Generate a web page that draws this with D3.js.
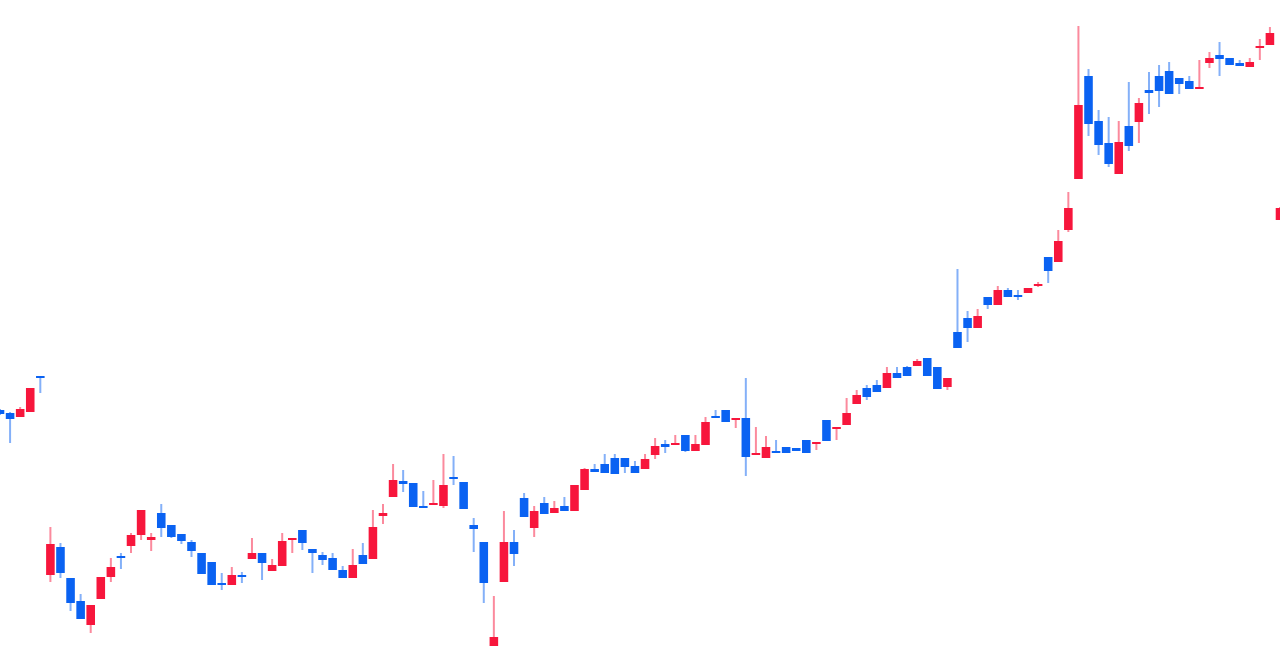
<!DOCTYPE html>
<html>
<head>
<meta charset="utf-8">
<script src="https://cdn.jsdelivr.net/npm/d3@7"></script>
<style>
html,body{margin:0;padding:0;background:#fff;overflow:hidden;}
svg{display:block;}
</style>
</head>
<body>
<svg id="chart" width="1280" height="670"></svg>
<script>
const opens = [26.0,25.7,25.3,25.8,29.4,9.5,12.3,9.2,6.9,4.5,7.1,9.3,11.4,12.4,13.5,13.0,15.7,14.5,13.6,12.8,
11.7,10.8,8.7,8.5,9.5,11.1,11.7,9.9,10.4,13.0,14.0,12.1,11.5,11.2,10.0,9.2,11.5,11.1,15.4,17.3,
18.9,18.7,16.4,16.6,16.4,19.3,18.8,14.5,12.8,2.4,8.8,12.8,17.2,14.2,16.7,15.7,16.4,15.9,18.0,20.1,
20.6,21.2,21.2,20.4,20.1,21.5,22.6,22.5,23.5,21.9,22.5,25.4,26.0,25.0,25.2,21.5,21.2,21.9,22.3,22.2,
23.0,22.7,25.0,24.2,24.5,26.6,28.2,28.5,28.2,29.7,30.3,30.4,31.2,30.3,28.3,33.8,35.2,34.2,37.3,36.5,
38.0,37.5,37.7,38.5,41.3,40.8,44.0,49.1,59.4,54.9,52.7,49.6,54.4,54.8,58.0,59.4,59.9,59.2,58.9,58.1,
60.7,61.5,61.2,60.7,60.3,62.3,62.5,45.0];
const closes = [25.6,25.1,26.1,28.2,29.2,12.6,9.7,6.7,5.1,6.5,9.3,10.3,11.2,13.5,16.0,13.3,14.2,13.3,12.9,11.9,
9.6,8.5,8.5,9.5,9.3,11.7,10.7,10.5,12.9,13.2,12.7,11.7,11.0,10.0,9.2,10.5,10.6,14.3,15.7,19.0,
18.6,16.3,16.2,16.7,18.5,19.1,16.1,14.1,8.7,3.3,12.8,11.6,15.3,15.9,15.6,16.2,15.9,18.5,20.1,19.8,
19.7,19.6,20.3,19.7,21.1,22.4,22.3,22.7,21.9,22.6,24.8,25.2,24.8,25.2,21.3,21.7,22.3,21.7,21.7,21.9,
21.7,22.8,22.9,24.3,25.7,27.5,27.3,27.8,29.7,29.2,29.4,30.9,29.4,28.1,29.2,32.2,34.2,35.4,36.5,38.0,
37.3,37.3,38.2,38.6,39.9,42.9,46.2,56.5,54.6,52.5,50.6,52.8,52.4,56.7,57.7,57.9,57.6,58.6,58.1,58.3,
61.2,61.1,60.5,60.4,60.8,62.4,63.7,46.2];
const highs = [26.1,25.8,26.3,28.2,29.4,14.3,12.7,9.2,7.6,6.5,9.3,11.2,11.7,13.7,16.0,13.7,16.6,14.5,13.6,13.0,
11.7,10.8,9.7,10.3,9.8,13.2,11.7,11.1,13.7,13.2,14.0,12.1,11.8,11.7,10.4,12.1,12.7,16.0,16.6,20.6,
20.0,18.7,17.9,19.0,21.6,21.4,18.8,15.2,12.8,7.4,15.9,14.0,17.7,16.4,17.3,16.9,17.3,18.5,20.2,20.6,
21.6,21.6,21.2,20.9,21.6,23.2,23.0,23.5,23.5,23.5,25.3,26.0,26.0,25.2,29.2,24.3,23.4,23.0,22.3,22.2,
23.0,22.8,25.0,24.3,27.2,28.0,28.5,29.0,30.3,30.3,30.4,31.1,31.2,30.3,29.2,40.1,35.9,36.1,37.3,38.4,
38.2,38.0,38.2,38.8,41.3,44.0,47.8,64.4,60.1,56.0,55.3,54.9,58.8,57.2,59.8,60.5,60.8,59.2,59.4,61.0,
61.8,62.8,61.2,61.0,61.2,63.1,64.3,46.3];
const lows = [25.5,22.7,25.3,25.8,27.7,8.8,9.2,5.9,5.1,3.7,7.1,8.8,10.1,11.7,13.0,11.9,13.3,13.2,12.6,11.3,
9.6,8.5,8.0,8.5,8.7,11.1,9.0,9.9,10.4,11.7,12.0,9.7,10.5,10.0,9.2,9.2,10.6,11.1,14.6,17.3,
17.8,16.3,16.2,16.6,16.2,18.5,16.1,11.8,6.7,2.4,8.8,10.4,15.3,13.3,15.6,15.7,15.9,15.9,18.0,19.8,
19.7,19.6,19.7,19.7,20.1,21.1,21.7,22.5,21.8,21.9,22.5,25.2,24.8,24.2,19.4,21.5,21.2,21.7,21.7,21.9,
21.7,22.0,22.9,23.0,24.5,26.6,27.0,27.8,28.2,29.2,29.4,30.4,29.4,28.1,28.0,32.2,32.8,34.2,36.1,36.5,
37.3,37.0,37.7,38.3,38.7,40.8,43.8,49.1,53.4,51.5,50.3,49.6,51.9,52.7,55.6,56.3,57.6,57.6,58.1,58.1,
60.2,59.4,60.5,60.4,60.3,61.0,62.5,45.0];

const W = 1280, H = 670;
const svg = d3.select('#chart');
const n = opens.length;
const data = d3.range(n).map(i => ({i, o: opens[i], c: closes[i], h: highs[i], l: lows[i]}));

const x = d3.scaleLinear().domain([0, n - 1]).range([0, W]);
const y = d3.scaleLinear().domain([0, 67]).range([H, 0]);
const step = x(1) - x(0);
const bw = step * 0.85;

const UP = '#f7163c', DOWN = '#0a62f2';
const col = d => d.c >= d.o ? UP : DOWN;

const g = svg.append('g');
const candles = g.selectAll('g.c').data(data).join('g').attr('class','c');
candles.append('line')
  .attr('x1', d => x(d.i)).attr('x2', d => x(d.i))
  .attr('y1', d => y(d.h)).attr('y2', d => y(d.l))
  .attr('stroke', col).attr('stroke-width', 2).attr('stroke-opacity', 0.5);
candles.append('rect')
  .attr('x', d => x(d.i) - bw / 2)
  .attr('width', bw)
  .attr('y', d => y(Math.max(d.o, d.c)))
  .attr('height', d => Math.max(2, Math.abs(y(d.o) - y(d.c))))
  .attr('fill', col);
</script>
</body>
</html>
